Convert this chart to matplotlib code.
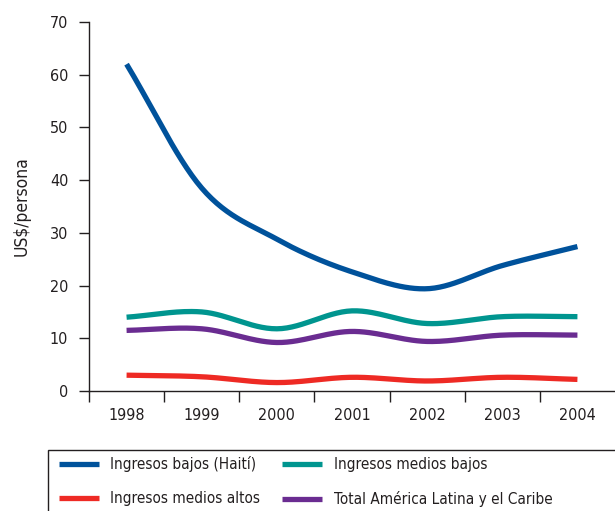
import numpy as np
import matplotlib
matplotlib.use("Agg")
import matplotlib.pyplot as plt
from matplotlib.patches import Rectangle

plt.rcParams['font.family'] = ['DejaVu Sans']
plt.rcParams['font.stretch'] = 'condensed'

years = ['1998', '1999', '2000', '2001', '2002', '2003', '2004']
bajos = [62.0, 38.5, 28.8, 22.6, 19.4, 23.8, 27.4]
medios_bajos = [14.0, 15.0, 11.8, 15.2, 12.8, 14.1, 14.1]
medios_altos = [3.0, 2.7, 1.6, 2.6, 1.9, 2.6, 2.2]
total_alc = [11.5, 11.8, 9.2, 11.3, 9.4, 10.6, 10.6]

series = [
    ('Ingresos bajos (Haití)', bajos, '#00529b'),
    ('Ingresos medios bajos', medios_bajos, '#00958f'),
    ('Ingresos medios altos', medios_altos, '#ee2a24'),
    ('Total América Latina y el Caribe', total_alc, '#6a2c91'),
]


# curva suave tipo catmull-rom entre los puntos
def smooth(y, n=30):
    y = np.asarray(y, dtype=float)
    x = np.arange(len(y), dtype=float)
    p = np.concatenate([[2 * y[0] - y[1]], y, [2 * y[-1] - y[-2]]])
    xs, ys = [], []
    for i in range(len(y) - 1):
        t = np.linspace(0, 1, n, endpoint=False)
        p0, p1, p2, p3 = p[i], p[i + 1], p[i + 2], p[i + 3]
        yy = 0.5 * ((2 * p1) + (-p0 + p2) * t + (2 * p0 - 5 * p1 + 4 * p2 - p3) * t ** 2
                    + (-p0 + 3 * p1 - 3 * p2 + p3) * t ** 3)
        xs.append(x[i] + t)
        ys.append(yy)
    xs.append([x[-1]])
    ys.append([y[-1]])
    return np.concatenate(xs), np.concatenate(ys)


fig = plt.figure(figsize=(6.15, 5.11), dpi=100)
ax = fig.add_axes([89 / 615, 1 - 391 / 511, 1 - 89 / 615, (391 - 22) / 511])

handles = []
for label, vals, color in series:
    xs, ys = smooth(vals)
    h, = ax.plot(xs, ys, color=color, lw=3.8, solid_capstyle='butt', label=label)
    handles.append(h)

ax.set_xlim(-0.5, 6.5)
ax.set_ylim(0, 70)
ax.set_yticks(range(0, 71, 10))
ax.set_xticks(np.arange(-0.5, 6.0, 1.0))
ax.set_xticklabels([])
ax.set_xticks(range(len(years)), minor=True)
ax.set_xticklabels(years, minor=True)
ax.tick_params(axis='x', which='minor', length=0, pad=12, labelsize=11.5, colors='#231f20')
ax.tick_params(axis='x', which='major', length=8, width=1, direction='out', color='#231f20')
ax.tick_params(axis='y', length=7, width=1, direction='out', labelsize=11.5, pad=8, color='#231f20',
               labelcolor='#231f20')
for s in ['top', 'right']:
    ax.spines[s].set_visible(False)
for s in ['left', 'bottom']:
    ax.spines[s].set_color('#231f20')
    ax.spines[s].set_linewidth(1)
ax.set_ylabel('US$/persona', fontsize=12.5, color='#231f20', labelpad=14)

# caja de la leyenda (cortada a la derecha y abajo)
fig.patches.append(Rectangle((48 / 615, -0.05), 1.0, 1 - 450 / 511 + 0.05, transform=fig.transFigure,
                             fill=False, edgecolor='#231f20', lw=1))
order = [handles[0], handles[2], handles[1], handles[3]]
fig.legend(order, [h.get_label() for h in order], ncol=2, frameon=False,
           loc='upper left', bbox_to_anchor=(53 / 615, 1 - 450 / 511),
           fontsize=11, handlelength=2.6, handletextpad=0.75, columnspacing=1.45,
           labelspacing=1.25, borderaxespad=0, labelcolor='#231f20')

fig.savefig('out.png', dpi=100)
